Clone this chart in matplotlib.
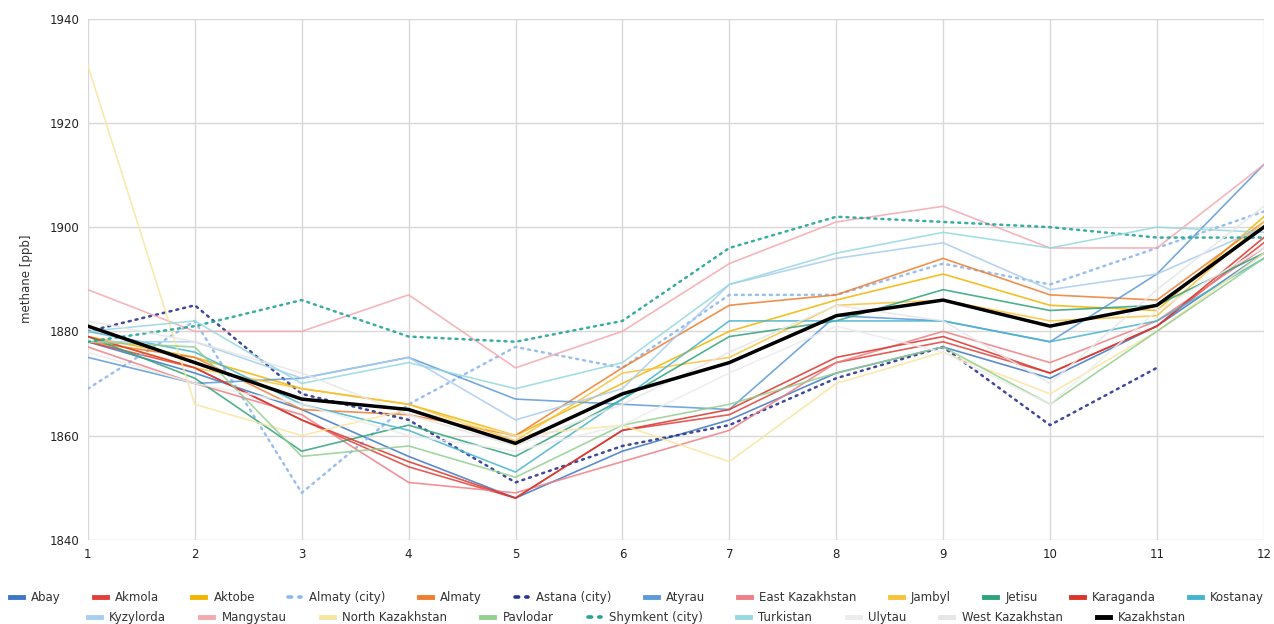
import numpy as np
import matplotlib
matplotlib.use("Agg")
import matplotlib.pyplot as plt
from matplotlib.lines import Line2D

months = list(range(1, 13))

abay = [1878, 1872, 1865, 1856, 1848, 1857, 1863, 1872, 1877, 1871, 1881, 1895]
akmola = [1878, 1873, 1863, 1854, 1848, 1861, 1864, 1874, 1878, 1872, 1881, 1897]
aktobe = [1879, 1875, 1869, 1866, 1860, 1870, 1880, 1886, 1891, 1885, 1884, 1902]
almaty_city = [1869, 1882, 1849, 1866, 1877, 1873, 1887, 1887, 1893, 1889, 1896, 1903]
almaty = [1878, 1875, 1865, 1864, 1860, 1873, 1885, 1887, 1894, 1887, 1886, 1901]
astana_city = [1880, 1885, 1868, 1863, 1851, 1858, 1862, 1871, 1877, 1862, 1873, np.nan]
atyrau = [1875, 1870, 1871, 1875, 1867, 1866, 1865, 1883, 1882, 1878, 1891, 1912]
east_kaz = [1877, 1870, 1864, 1851, 1849, 1855, 1861, 1874, 1880, 1874, 1882, 1896]
jambyl = [1879, 1873, 1869, 1866, 1859, 1872, 1875, 1885, 1886, 1882, 1883, 1901]
jetisu = [1879, 1871, 1857, 1862, 1856, 1867, 1879, 1882, 1888, 1884, 1885, 1895]
karaganda = [1879, 1873, 1863, 1855, 1848, 1861, 1865, 1875, 1879, 1872, 1881, 1898]
kostanay = [1880, 1876, 1866, 1861, 1853, 1867, 1882, 1882, 1882, 1878, 1882, 1894]
kyzylorda = [1878, 1878, 1871, 1875, 1863, 1869, 1889, 1894, 1897, 1888, 1891, 1900]
mangystau = [1888, 1880, 1880, 1887, 1873, 1880, 1893, 1901, 1904, 1896, 1896, 1912]
north_kaz = [1931, 1866, 1860, 1865, 1860, 1862, 1855, 1870, 1876, 1868, 1880, 1895]
pavlodar = [1878, 1877, 1856, 1858, 1852, 1862, 1866, 1872, 1877, 1866, 1880, 1894]
shymkent_city = [1878, 1881, 1886, 1879, 1878, 1882, 1896, 1902, 1901, 1900, 1898, 1898]
turkistan = [1880, 1882, 1870, 1874, 1869, 1874, 1889, 1895, 1899, 1896, 1900, 1899]
ulytau = [1876, 1870, 1866, 1860, 1857, 1862, 1872, 1881, 1876, 1866, 1884, 1896]
west_kaz = [1882, 1878, 1872, 1864, 1858, 1866, 1876, 1885, 1882, 1870, 1888, 1904]
kazakhstan = [1881, 1874, 1867, 1865, 1858.5, 1868, 1874, 1883, 1886, 1881, 1885, 1900]

# name, values, colour, dotted?
series = [
    ("Abay", abay, "#3d78c4", False),
    ("Akmola", akmola, "#e0403a", False),
    ("Aktobe", aktobe, "#f2b400", False),
    ("Almaty (city)", almaty_city, "#8fb8ee", True),
    ("Almaty", almaty, "#ef7d2d", False),
    ("Astana (city)", astana_city, "#2b3590", True),
    ("Atyrau", atyrau, "#5d9ad8", False),
    ("East Kazakhstan", east_kaz, "#ee7f86", False),
    ("Jambyl", jambyl, "#f8c33a", False),
    ("Jetisu", jetisu, "#2fa37a", False),
    ("Karaganda", karaganda, "#d9352b", False),
    ("Kostanay", kostanay, "#46b4cf", False),
    ("Kyzylorda", kyzylorda, "#a9cdf0", False),
    ("Mangystau", mangystau, "#f3a9ae", False),
    ("North Kazakhstan", north_kaz, "#f8e6a0", False),
    ("Pavlodar", pavlodar, "#93cf8f", False),
    ("Shymkent (city)", shymkent_city, "#23a596", True),
    ("Turkistan", turkistan, "#97d8e0", False),
    ("Ulytau", ulytau, "#ececec", False),
    ("West Kazakhstan", west_kaz, "#e6e6e6", False),
]

fig = plt.figure(figsize=(12.74, 6.24), dpi=100)
ax = fig.add_axes([0.069, 0.135, 0.923, 0.835])

handles = []
for name, vals, col, dotted in series:
    if dotted:
        ax.plot(months, vals, color=col, lw=1.8, linestyle=(0, (0.8, 2.0)),
                dash_capstyle="round", alpha=0.9, zorder=2)
        h = Line2D([], [], color=col, lw=2.6, linestyle=(0, (1, 2)), dash_capstyle="round")
    else:
        ax.plot(months, vals, color=col, lw=1.2, alpha=0.85, zorder=2)
        h = Line2D([], [], color=col, lw=3.5)
    handles.append((h, name))

ax.plot(months, kazakhstan, color="black", lw=2.5, zorder=3)
handles.append((Line2D([], [], color="black", lw=3.5), "Kazakhstan"))

ax.set_xlim(1, 12)
ax.set_ylim(1840, 1940)
ax.set_xticks(months)
ax.set_yticks([1840, 1860, 1880, 1900, 1920, 1940])
ax.grid(True, color="#d8d8d8", lw=1.0)
ax.set_axisbelow(True)
for s in ax.spines.values():
    s.set_visible(False)
ax.tick_params(length=0, labelsize=8.5, colors="#222222", pad=6)
ax.set_ylabel("methane [ppb]", fontsize=8.5, color="#333333", labelpad=12)

row1 = handles[:12]
row2 = handles[12:]
leg1 = fig.legend([h for h, _ in row1], [n for _, n in row1], loc="center",
                  bbox_to_anchor=(0.5, 0.043), ncol=12, frameon=False,
                  fontsize=8.5, handlelength=1.1, columnspacing=2.8,
                  handletextpad=0.7, borderaxespad=0)
leg2 = fig.legend([h for h, _ in row2], [n for _, n in row2], loc="center",
                  bbox_to_anchor=(0.5, 0.011), ncol=9, frameon=False,
                  fontsize=8.5, handlelength=1.1, columnspacing=2.9,
                  handletextpad=0.7, borderaxespad=0)
for leg in (leg1, leg2):
    for t in leg.get_texts():
        t.set_color("#333333")

fig.savefig("out.png", dpi=100)
